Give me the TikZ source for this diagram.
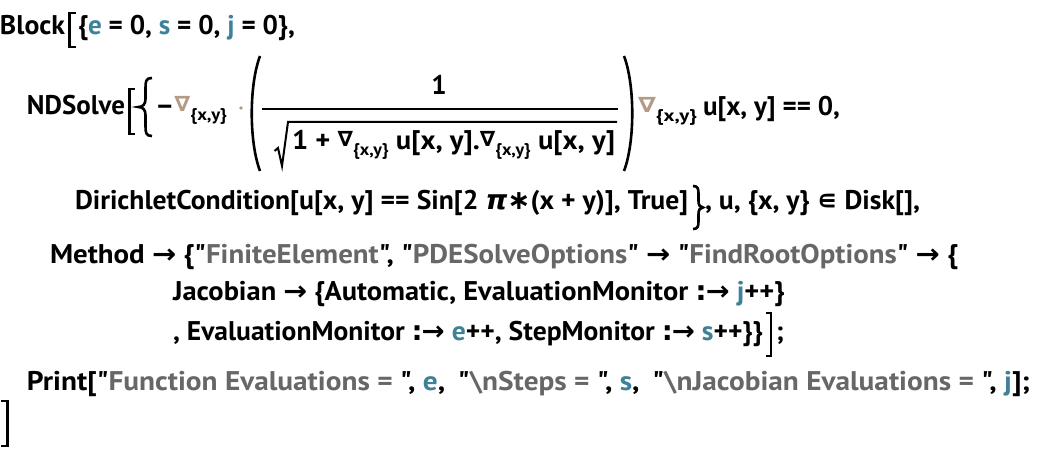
\documentclass[tikz,border=0pt]{standalone}
\usepackage{fontspec}
\usepackage{graphicx}
\setmainfont{PT Sans}[Ligatures=TeXOff]
\newfontfamily\symf{DejaVu Sans}[Ligatures=TeXOff]
\definecolor{varc}{HTML}{3F8198}
\definecolor{strc}{HTML}{676767}
\definecolor{tanc}{HTML}{B39B85}
\newsavebox\fitbox
\newcommand\fitto[2]{\sbox\fitbox{#2}\pgfmathsetmacro\fitratio{#1/\the\wd\fitbox}\scalebox{\fitratio}[1]{\usebox\fitbox}}
\newcommand\subxy{\raisebox{-6pt}{\fontsize{17}{17}\selectfont\bfseries\{x,y\}}}
\newcommand\nabt{{\color{tanc}\raisebox{3.5pt}{\symf\bfseries\fontsize{21}{21}\selectfont ∇}}\subxy}
\newcommand\nabk{\raisebox{3.5pt}{\symf\bfseries\fontsize{21}{21}\selectfont ∇}\subxy}
\newcommand\arr{{\symf\bfseries →}}
\newcommand\rdl{{\symf\bfseries :\kern-1pt→}}
\newcommand\vv[1]{{\color{varc}#1}}
\newcommand\st[1]{{\color{strc}#1}}
\tikzset{
  txt/.style={anchor=base west, inner sep=0pt, outer sep=0pt, font=\fontsize{27}{30}\selectfont\bfseries},
  brk/.style={line width=2.6pt, line cap=butt, line join=miter},
  rul/.style={line width=2pt}
}
\begin{document}
\begin{tikzpicture}[x=1pt,y=-1pt]
\useasboundingbox[fill=white] (0,0) rectangle (1039,449);
% line 1
\node[txt] (l1a) at (0,35) {\fitto{65}{Block}};
\draw[brk] (75.5,13) -- (69.3,13) -- (69.3,47) -- (75.5,47);
\node[txt] (l1b) at (78,35) {\fitto{217}{\{\vv{e} = 0, \vv{s} = 0, \vv{j} = 0\},}};
% line 2
\node[txt] (l2a) at (27,115) {\fitto{98}{NDSolve}};
\draw[brk] (134.5,89) -- (129.3,89) -- (129.3,134) -- (134.5,134);
\draw[brk] (152,78) .. controls (146,78) and (145.5,81) .. (145.5,88) -- (145.5,99) .. controls (145.5,104) and (143,107) .. (138.5,107) .. controls (143,107) and (145.5,110) .. (145.5,115) -- (145.5,126) .. controls (145.5,133) and (146,136) .. (152,136);
\node[txt] (l2b) at (155,115) {\fitto{72}{–\nabt}};
\fill[tanc] (241,108) circle (1.8);
\draw[line width=2.6pt] (260,56) .. controls (249,85) and (249,142) .. (260,171);
\node[txt, anchor=base] (num) at (439,95) {1};
\draw[rul] (262,109) -- (618,109);
\draw[line width=2pt, line join=miter] (274.5,151) -- (278,148) -- (282,166) -- (288,122) -- (617,122);
\node[txt] (den) at (292,150) {\fitto{323}{1 + \nabk\ u[x, y].\nabk\ u[x, y]}};
\draw[line width=2.6pt] (624,56) .. controls (635,85) and (635,142) .. (624,171);
\node[txt] (l2c) at (638,116) {\fitto{59}{\nabt}};
\node[txt] (l2d) at (703,116) {u[x, y] == 0,};
% line 3
\node[txt] (l3a) at (75,210) {\fitto{613}{DirichletCondition[u[x, y] == Sin[2 {\symf\bfseries\itshape π}{\symf\bfseries ∗}(x + y)], True]}};
\draw[brk] (693,186) .. controls (698,186) and (698.5,189) .. (698.5,194) -- (698.5,201) .. controls (698.5,205) and (700,207.5) .. (703,207.5) .. controls (700,207.5) and (698.5,210) .. (698.5,214) -- (698.5,221) .. controls (698.5,226) and (698,229) .. (693,229);
\node[txt] (l3b) at (705,210) {\fitto{215}{, u, \{x, y\} {\symf\bfseries ∊} Disk[],}};
% line 4
\node[txt] (l4) at (50,263) {\fitto{908}{Method \arr\ \{"\st{FiniteElement}", "\st{PDESolveOptions}" \arr\ "\st{FindRootOptions}" \arr\ \{}};
% line 5
\node[txt] (l5) at (173,300) {\fitto{612}{Jacobian \arr\ \{Automatic, EvaluationMonitor \rdl\ \vv{j}++\}}};
% line 6
\node[txt] (l6a) at (173,340) {\fitto{590}{, EvaluationMonitor \rdl\ \vv{e}++, StepMonitor \rdl\ \vv{s}++\}\}}};
\draw[brk] (766,313) -- (771,313) -- (771,356) -- (766,356);
\node[txt] (l6b) at (776,340) {;};
% line 7
\node[txt] (l7) at (27,390) {\fitto{1003}{Print["\st{Function Evaluations =\ }", \vv{e},\hspace{5pt} "\st{\textbackslash nSteps =\ }", \vv{s},\hspace{5pt} "\st{\textbackslash nJacobian Evaluations =\ }", \vv{j}];}};
% line 8
\draw[brk] (1,401) -- (7.7,401) -- (7.7,446) -- (1,446);
\end{tikzpicture}
\end{document}
